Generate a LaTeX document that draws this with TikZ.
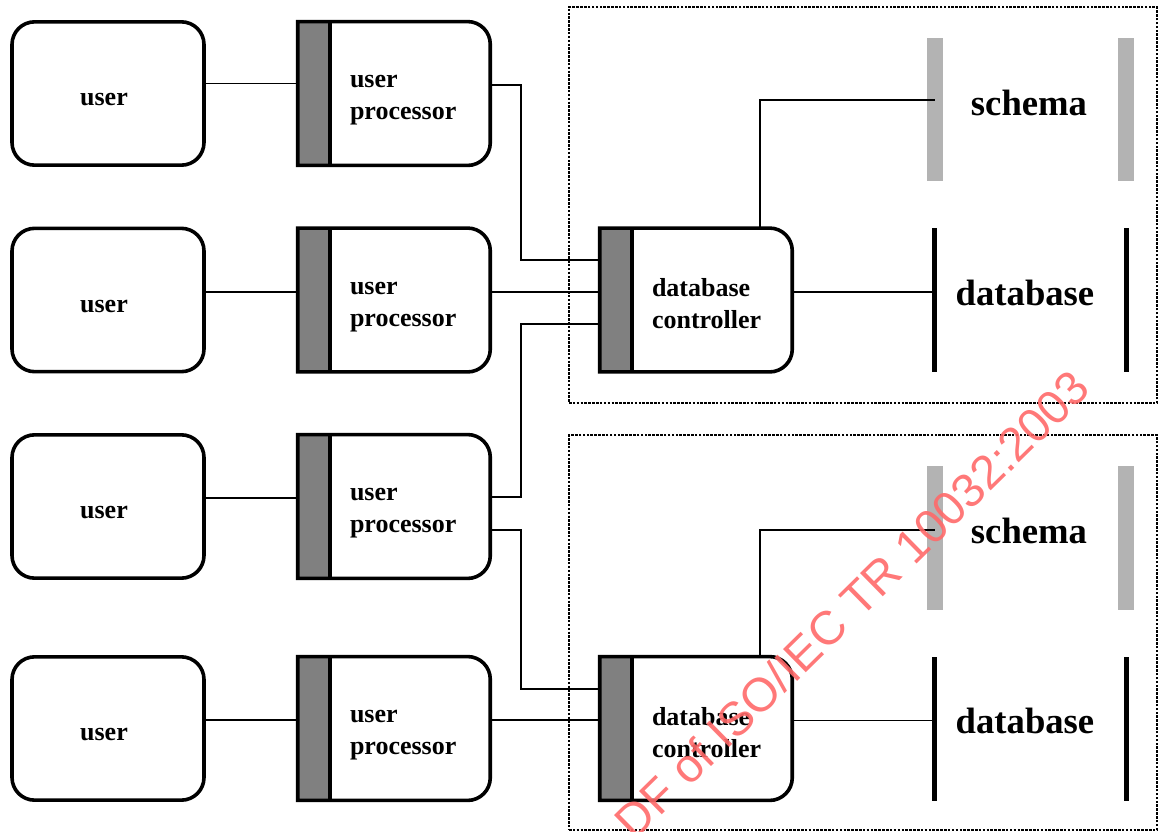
\documentclass[tikz,border=0pt]{standalone}
\usepackage{fontspec}
\setmainfont{Liberation Serif}
\newfontfamily\wmfont{Liberation Sans}
\usetikzlibrary{calc}
\definecolor{barGray}{HTML}{808080}
\definecolor{schemaGray}{HTML}{B3B3B3}
\definecolor{wmRed}{RGB}{255,105,105}
\tikzset{
  boxline/.style={line width=2.7pt},
  conn/.style={line width=1.4pt},
  userbox/.style={draw, boxline, rounded corners=17pt, minimum width=144pt, minimum height=107.5pt, inner sep=0pt},
  usertext/.style={inner sep=0pt, font=\fontsize{19.5}{24}\selectfont\bfseries},
  procframe/.style={draw=none, minimum width=144pt, minimum height=107.5pt, inner sep=0pt},
  proctext/.style={anchor=west, align=left, inner sep=0pt, font=\fontsize{19.5}{24}\selectfont\bfseries},
  schemabar/.style={fill=schemaGray, draw=none, minimum width=12pt, minimum height=107.5pt, inner sep=0pt},
  dbbar/.style={fill=black, draw=none, minimum width=3.8pt, minimum height=108pt, inner sep=0pt},
  bigtext/.style={font=\fontsize{27.5}{33}\selectfont\bfseries, inner sep=0pt},
  groupbox/.style={draw, line width=1.9pt, densely dotted},
}
\newcommand{\procshape}[1]{%
  \fill[barGray] (#1.north west) rectangle ([xshift=24pt]#1.south west);
  \draw[boxline] (#1.north west) -- ([xshift=-17pt]#1.north east)
     arc[start angle=90,end angle=0,radius=17pt] -- ([yshift=17pt]#1.south east)
     arc[start angle=0,end angle=-90,radius=17pt] -- (#1.south west) -- cycle;
  \draw[boxline] ([xshift=24pt]#1.north west) -- ([xshift=24pt]#1.south west);
}
\begin{document}
\begin{tikzpicture}[x=0.75pt,y=-0.75pt]
\useasboundingbox (0,0) rectangle (1158,832);

% group boxes
\node[groupbox, minimum width=441pt, minimum height=297pt, inner sep=0pt] (g1) at (863,205) {};
\node[groupbox, minimum width=441pt, minimum height=296pt, inner sep=0pt] (g2) at (863,632.5) {};

% users
\node[userbox] (u1) at (108,93.5) {};
\node[userbox] (u2) at (108,300) {};
\node[userbox] (u3) at (108,506.5) {};
\node[userbox] (u4) at (108,728.5) {};
\node[usertext] (u1t) at ([xshift=-3pt,yshift=-4.5pt]u1.center) {user};
\node[usertext] (u2t) at ([xshift=-3pt,yshift=-4.5pt]u2.center) {user};
\node[usertext] (u3t) at ([xshift=-3pt,yshift=-4.5pt]u3.center) {user};
\node[usertext] (u4t) at ([xshift=-3pt,yshift=-4.5pt]u4.center) {user};

% user processors
\node[procframe] (p1) at (394,93.5) {};
\node[procframe] (p2) at (394,300) {};
\node[procframe] (p3) at (394,506.5) {};
\node[procframe] (p4) at (394,728.5) {};
\procshape{p1}\procshape{p2}\procshape{p3}\procshape{p4}
\node[proctext] (p1t) at ([xshift=39pt,yshift=-3pt]p1.west) {\vphantom{d}user\\processor};
\node[proctext] (p2t) at ([xshift=39pt,yshift=-3pt]p2.west) {\vphantom{d}user\\processor};
\node[proctext] (p3t) at ([xshift=39pt,yshift=-3pt]p3.west) {\vphantom{d}user\\processor};
\node[proctext] (p4t) at ([xshift=39pt,yshift=-3pt]p4.west) {\vphantom{d}user\\processor};

% database controllers
\node[procframe] (d1) at (696,300) {};
\node[procframe] (d2) at (696,728.5) {};
\procshape{d1}\procshape{d2}
\node[proctext] (d1t) at ([xshift=39pt,yshift=-3pt]d1.west) {database\\controller};
\node[proctext] (d2t) at ([xshift=39pt,yshift=-3pt]d2.west) {database\\controller};

% schema bars and text
\node[schemabar] (s1l) at (935,109.5) {};
\node[schemabar] (s1r) at (1126,109.5) {};
\node[bigtext] (s1) at (1029,103) {schema};
\node[schemabar] (s2l) at (935,538) {};
\node[schemabar] (s2r) at (1126,538) {};
\node[bigtext] (s2) at (1029,531) {schema};

% database bars and text
\node[dbbar] (b1l) at (934.5,300) {};
\node[dbbar] (b1r) at (1126.5,300) {};
\node[bigtext] (b1) at (1025,293) {database};
\node[dbbar] (b2l) at (934.5,728.5) {};
\node[dbbar] (b2r) at (1126.5,728.5) {};
\node[bigtext] (b2) at (1025,721) {database};

% connectors
\draw[conn] ([yshift=7.5pt]u1.east) -- ([yshift=7.5pt]p1.west);
\draw[conn] ([yshift=6pt]u2.east) -- ([yshift=6pt]p2.west);
\draw[conn] ([yshift=6.5pt]u3.east) -- ([yshift=6.5pt]p3.west);
\draw[conn] ([yshift=6.5pt]u4.east) -- ([yshift=6.5pt]p4.west);

\draw[conn] ([yshift=6.5pt]p1.east) -- ++(23.25pt,0) |- ([yshift=30pt]d1.west);
\draw[conn] ([yshift=6pt]p2.east) -- ([yshift=6pt]d1.west);
\draw[conn] ([yshift=7pt]p3.east) -- ++(23.25pt,0) |- ([yshift=-18pt]d1.west);
\draw[conn] ([yshift=-17.5pt]p3.east) -- ++(23.25pt,0) |- ([yshift=29.5pt]d2.west);
\draw[conn] ([yshift=6.5pt]p4.east) -- ([yshift=6.5pt]d2.west);

\draw[conn] ([xshift=120pt]d1.north west) |- ([yshift=7pt]s1l.center);
\draw[conn] ([xshift=120pt]d2.north west) |- ([yshift=6pt]s2l.center);
\draw[conn] ([yshift=6pt]d1.east) -- ([yshift=6pt]b1l.center);
\draw[conn] ([yshift=6pt]d2.east) -- ([yshift=6pt]b2l.center);

% watermark
\node[text=wmRed, opacity=0.9, rotate=44.5, font=\fontsize{35.5}{40}\selectfont\wmfont, inner sep=0pt] (wm) at (852,604) {DF of ISO/IEC TR 10032:2003};
\end{tikzpicture}
\end{document}
